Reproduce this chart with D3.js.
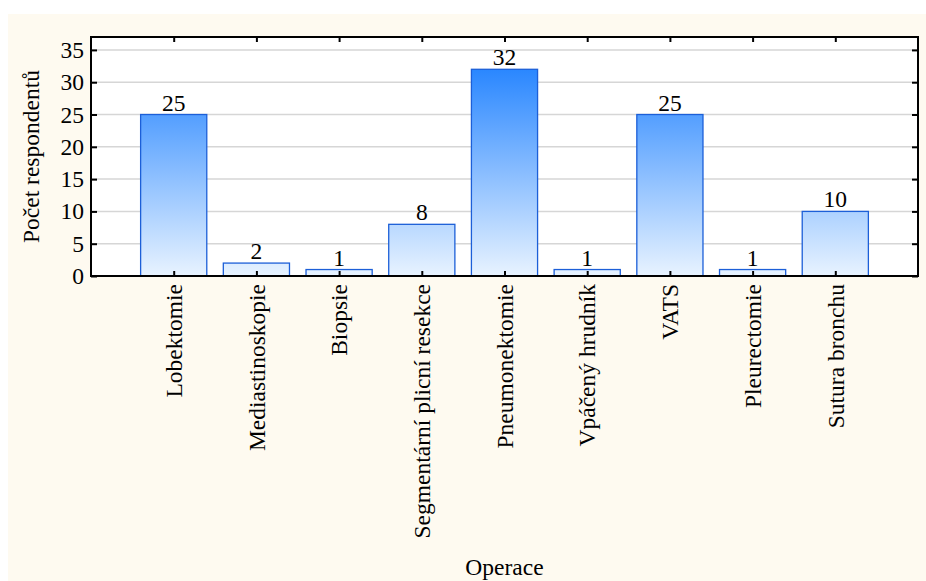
<!DOCTYPE html>
<html><head><meta charset="utf-8">
<script src="https://cdn.jsdelivr.net/npm/d3@7"></script>
<style>html,body{margin:0;padding:0;background:#fff;}svg{display:block;}</style>
</head><body>
<script>
const categories = ["Lobektomie","Mediastinoskopie","Biopsie","Segmentární plicní resekce","Pneumonektomie","Vpáčený hrudník","VATS","Pleurectomie","Sutura bronchu"];
const values = [25,2,1,8,32,1,25,1,10];
const yTicks = [0,5,10,15,20,25,30,35];
const yTitle = "Počet respondentů";
const xTitle = "Operace";

const W = 926, H = 581;
const L = 91, R = 918, T = 37, B = 276;
const font = "'Liberation Serif','Times New Roman',serif";
const FS = 23.5;

const svg = d3.select("body").append("svg").attr("width", W).attr("height", H);
svg.append("rect").attr("x", 8).attr("y", 14).attr("width", W - 8).attr("height", H - 14).attr("fill", "#fefaf0");

const x = d3.scalePoint().domain(categories).range([L, R]).padding(1);
const y = d3.scaleLinear().domain([0, 37]).range([B, T]);
const bw = x.step() * 0.8;

const defs = svg.append("defs");
const g = defs.append("linearGradient").attr("id", "bg").attr("gradientUnits", "userSpaceOnUse")
  .attr("x1", 0).attr("x2", 0).attr("y1", y(37)).attr("y2", y(0));
g.append("stop").attr("offset", "0%").attr("stop-color", "#0c76ff");
g.append("stop").attr("offset", "100%").attr("stop-color", "#e8f3ff");

svg.append("rect").attr("x", L).attr("y", T).attr("width", R - L).attr("height", B - T).attr("fill", "#fff");

// gridlines
svg.append("g").selectAll("line").data(yTicks.filter(d => d > 0)).join("line")
  .attr("x1", L).attr("x2", R).attr("y1", d => y(d)).attr("y2", d => y(d))
  .attr("stroke", "#d6d6d6").attr("stroke-width", 1.5);

// bars
svg.append("g").selectAll("rect").data(values).join("rect")
  .attr("x", (d, i) => x(categories[i]) - bw / 2)
  .attr("y", d => y(d))
  .attr("width", bw)
  .attr("height", d => y(0) - y(d))
  .attr("fill", "url(#bg)")
  .attr("stroke", "#1c5fd8").attr("stroke-width", 1.3);

// value labels
svg.append("g").selectAll("text").data(values).join("text")
  .attr("x", (d, i) => x(categories[i]))
  .attr("y", d => y(d) - 4)
  .attr("text-anchor", "middle")
  .attr("font-family", font).attr("font-size", FS).attr("fill", "#000")
  .text(d => d);

// axes (ticks inward)
const axL = d3.axisLeft(y).tickValues(yTicks).tickSize(-6).tickPadding(7);
const axR = d3.axisRight(y).tickValues(yTicks).tickSize(-6).tickFormat("");
const axB = d3.axisBottom(x).tickSize(-5).tickFormat("");
const axT = d3.axisTop(x).tickSize(-5).tickFormat("");
function style(sel) {
  sel.select(".domain").remove();
  sel.selectAll("line").attr("stroke", "#000").attr("stroke-width", 2);
  sel.selectAll("text").attr("font-family", font).attr("font-size", FS).attr("fill", "#000");
}
svg.append("g").attr("transform", `translate(${L},0)`).call(axL).call(style);
svg.append("g").attr("transform", `translate(${R},0)`).call(axR).call(style);
svg.append("g").attr("transform", `translate(0,${B})`).call(axB).call(style);
svg.append("g").attr("transform", `translate(0,${T})`).call(axT).call(style);

svg.append("rect").attr("x", L).attr("y", T).attr("width", R - L).attr("height", B - T)
  .attr("fill", "none").attr("stroke", "#000").attr("stroke-width", 2);

// category labels
svg.append("g").selectAll("text").data(categories).join("text")
  .attr("transform", d => `translate(${x(d)},${B + 8}) rotate(-90)`)
  .attr("text-anchor", "end").attr("dy", "0.35em")
  .attr("font-family", font).attr("font-size", FS).attr("fill", "#000")
  .text(d => d);

svg.append("text").attr("transform", `translate(39,${(T + B) / 2}) rotate(-90)`)
  .attr("text-anchor", "middle")
  .attr("font-family", font).attr("font-size", FS).attr("fill", "#000")
  .text(yTitle);

svg.append("text").attr("x", (L + R) / 2).attr("y", 575)
  .attr("text-anchor", "middle")
  .attr("font-family", font).attr("font-size", FS).attr("fill", "#000")
  .text(xTitle);
</script>
</body></html>
